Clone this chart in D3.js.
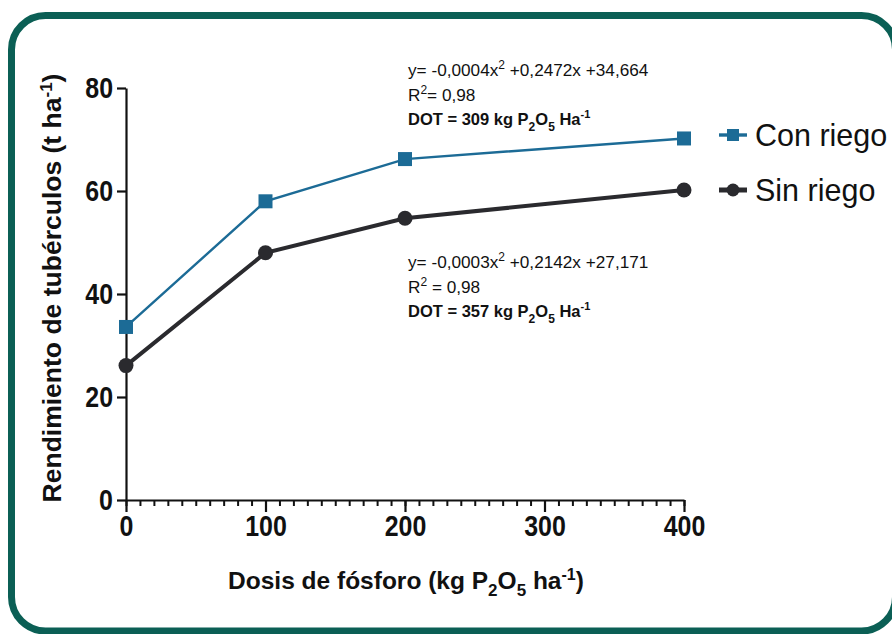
<!DOCTYPE html>
<html>
<head>
<meta charset="utf-8">
<script src="https://cdn.jsdelivr.net/npm/d3@7"></script>
<style>
  body { margin: 0; background: #ffffff; }
  svg text { font-family: "Liberation Sans", Arial, sans-serif; }
</style>
</head>
<body>
<script>
// data
var dosis      = [0, 100, 200, 400];
var con_riego  = [33.6, 58.0, 66.2, 70.2];
var sin_riego  = [26.1, 48.0, 54.7, 60.2];
var y_ticks    = [0, 20, 40, 60, 80];
var x_ticks    = [0, 100, 200, 300, 400];
var x_minor    = d3.range(0, 401, 10);
var series_names = ["Con riego", "Sin riego"];

var W = 892, H = 634;
var svg = d3.select("body").append("svg").attr("width", W).attr("height", H);

// rounded frame
svg.append("rect")
    .attr("x", 11.5).attr("y", 15.5)
    .attr("width", 884).attr("height", 615.5)
    .attr("rx", 34).attr("ry", 34)
    .attr("fill", "#ffffff")
    .attr("stroke", "#0b5f55").attr("stroke-width", 7);

var x = d3.scaleLinear().domain([0, 400]).range([126, 684]);
var y = d3.scaleLinear().domain([0, 80]).range([500, 88]);

// condensed-looking tick labels: big bold type squeezed horizontally
function tick_text(sel, dx, dy) {
    sel.attr("font-size", 29).attr("font-weight", "bold").attr("fill", "#111")
       .attr("transform", "translate(" + dx + "," + dy + ") scale(0.86,1)");
}

// x axis with minor ticks
svg.append("g")
    .attr("transform", "translate(0,500)")
    .call(d3.axisBottom(x).tickValues(x_minor).tickFormat("").tickSize(6).tickSizeOuter(0))
    .call(g => g.select(".domain").remove())
    .selectAll("line").attr("stroke", "#111").attr("stroke-width", 2);

var xa = svg.append("g")
    .attr("transform", "translate(0,500)")
    .call(d3.axisBottom(x).tickValues(x_ticks).tickSize(12).tickSizeOuter(0).tickPadding(3));
xa.select(".domain").attr("stroke", "#111").attr("stroke-width", 2.2);
xa.selectAll("line").attr("stroke", "#111").attr("stroke-width", 2.2);
xa.selectAll("text").call(tick_text, 0, 0);

var ya = svg.append("g")
    .attr("transform", "translate(126,0)")
    .call(d3.axisLeft(y).tickValues(y_ticks).tickSize(9).tickSizeOuter(0).tickPadding(0));
ya.select(".domain").attr("stroke", "#111").attr("stroke-width", 2.2);
ya.selectAll("line").attr("stroke", "#111").attr("stroke-width", 2.2);
ya.selectAll("text").attr("x", 0).call(tick_text, -13, 0);

// axis titles
var xt = svg.append("text")
    .attr("x", 406).attr("y", 589)
    .attr("text-anchor", "middle")
    .attr("font-size", 24.5).attr("font-weight", "bold").attr("fill", "#111");
xt.append("tspan").text("Dosis de fósforo (kg P");
xt.append("tspan").attr("dy", 7).attr("font-size", 17).text("2");
xt.append("tspan").attr("dy", -7).text("O");
xt.append("tspan").attr("dy", 7).attr("font-size", 17).text("5");
xt.append("tspan").attr("dy", -7).text(" ha");
xt.append("tspan").attr("dy", -9).attr("font-size", 16).text("-1");
xt.append("tspan").attr("dy", 9).text(")");

var yt = svg.append("text")
    .attr("transform", "translate(61,288) rotate(-90)")
    .attr("text-anchor", "middle")
    .attr("font-size", 26.5).attr("font-weight", "bold").attr("fill", "#111");
yt.append("tspan").text("Rendimiento de tubérculos (t ha");
yt.append("tspan").attr("dy", -9).attr("font-size", 17).text("-1");
yt.append("tspan").attr("dy", 9).text(")");

// series
var series = [
    { name: series_names[0], values: con_riego, color: "#1c6b96", width: 2.4, shape: "square" },
    { name: series_names[1], values: sin_riego, color: "#2a2a2e", width: 4, shape: "circle" }
];

var line = d3.line().x(d => x(d[0])).y(d => y(d[1]));

series.forEach(function(s) {
    var pts = dosis.map((d, i) => [d, s.values[i]]);
    svg.append("path").datum(pts)
        .attr("d", line)
        .attr("fill", "none")
        .attr("stroke", s.color).attr("stroke-width", s.width);
    if (s.shape == "square") {
        svg.selectAll(null).data(pts).enter().append("rect")
            .attr("x", d => x(d[0]) - 7).attr("y", d => y(d[1]) - 7)
            .attr("width", 14).attr("height", 14)
            .attr("fill", s.color);
    } else {
        svg.selectAll(null).data(pts).enter().append("circle")
            .attr("cx", d => x(d[0])).attr("cy", d => y(d[1]))
            .attr("r", 7.5)
            .attr("fill", s.color);
    }
});

// legend
series.forEach(function(s, i) {
    var ly = 135 + i * 55;
    svg.append("line")
        .attr("x1", 719).attr("x2", 747).attr("y1", ly).attr("y2", ly)
        .attr("stroke", s.color).attr("stroke-width", s.width + 1);
    if (s.shape == "square") {
        svg.append("rect").attr("x", 727).attr("y", ly - 6).attr("width", 12).attr("height", 12).attr("fill", s.color);
    } else {
        svg.append("circle").attr("cx", 733).attr("cy", ly).attr("r", 6.5).attr("fill", s.color);
    }
    svg.append("text")
        .attr("x", 755).attr("y", ly + 11)
        .attr("font-size", 30.5).attr("fill", "#111")
        .text(s.name);
});

// equation annotations
var eqs = [
    { top: 76, a: "-0,0004", b: "+0,2472x +34,664", r2: "= 0,98", dot: "309" },
    { top: 268, a: "-0,0003", b: "+0,2142x +27,171", r2: " = 0,98", dot: "357" }
];
eqs.forEach(function(e) {
    var t1 = svg.append("text").attr("x", 408).attr("y", e.top).attr("font-size", 17.2).attr("fill", "#111");
    t1.append("tspan").text("y= " + e.a + "x");
    t1.append("tspan").attr("dy", -7).attr("font-size", 12).text("2");
    t1.append("tspan").attr("dy", 7).text(" " + e.b);

    var t2 = svg.append("text").attr("x", 408).attr("y", e.top + 25).attr("font-size", 17.2).attr("fill", "#111");
    t2.append("tspan").text("R");
    t2.append("tspan").attr("dy", -7).attr("font-size", 12).text("2");
    t2.append("tspan").attr("dy", 7).text(e.r2);

    var t3 = svg.append("text").attr("x", 408).attr("y", e.top + 49).attr("font-size", 16.5)
        .attr("font-weight", "bold").attr("fill", "#111");
    t3.append("tspan").text("DOT = " + e.dot + " kg P");
    t3.append("tspan").attr("dy", 6).attr("font-size", 12).text("2");
    t3.append("tspan").attr("dy", -6).text("O");
    t3.append("tspan").attr("dy", 6).attr("font-size", 12).text("5");
    t3.append("tspan").attr("dy", -6).text(" Ha");
    t3.append("tspan").attr("dy", -7).attr("font-size", 11).text("-1");
});
</script>
</body>
</html>
